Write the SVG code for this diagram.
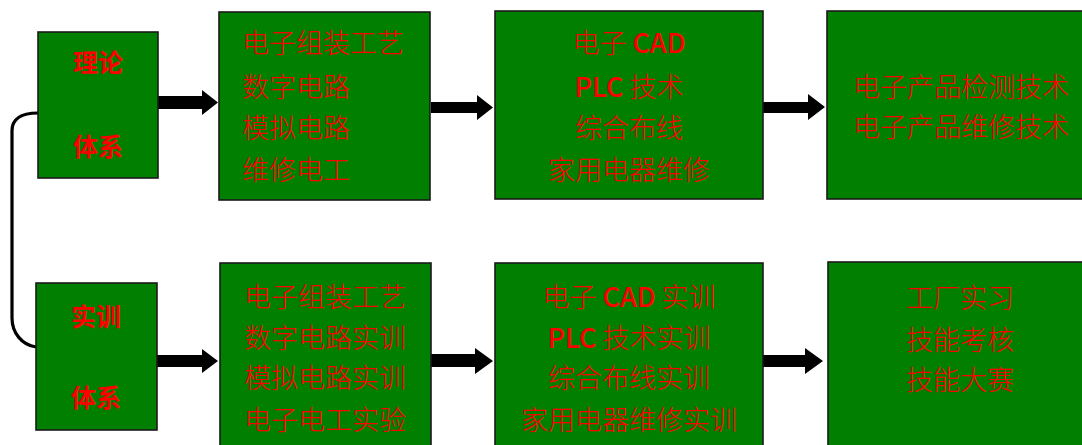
<svg xmlns="http://www.w3.org/2000/svg" width="1082" height="445" viewBox="0 0 1082 445">
<style>
.box{fill:#007f00;stroke:#1a1a1a;stroke-width:1.6}
.t{font-family:"Noto Sans CJK SC","Liberation Sans",sans-serif;font-size:27px;fill:#ff0000;font-weight:300}
.c{text-anchor:middle}
.lat{font-weight:500}
.h{font-family:"Noto Sans CJK SC","Liberation Sans",sans-serif;font-size:25px;fill:#ff0000;font-weight:700;text-anchor:middle}
.arr{fill:#000}
.link{fill:none;stroke:#000;stroke-width:3.2}
</style>
<rect width="1082" height="445" fill="#fff"/>
<g id="connectors">
<path class="link" d="M38,113 C22,113 12,118 12,131 L12,318 C12,333 22,345 36,347"/>
<polygon class="arr" points="158,96 202,96 202,90 218,102.5 202,115 202,109 158,109"/>
<polygon class="arr" points="431,102 477,102 477,95 493,107.5 477,120 477,113 431,113"/>
<polygon class="arr" points="763,102 808,102 808,94 825,107 808,120 808,113 763,113"/>
<polygon class="arr" points="157,355 202,355 202,349 218,361 202,373 202,367 157,367"/>
<polygon class="arr" points="431,354 475,354 475,348 493,361 475,374 475,367 431,367"/>
<polygon class="arr" points="763,355 805,355 805,348 823,361 805,374 805,367 763,367"/>
</g>
<g id="theory">
<rect class="box" x="38" y="32" width="120" height="146"/>
<text class="h" x="98" y="72">理论</text>
<text class="h" x="98" y="156">体系</text>
</g>
<g id="practice">
<rect class="box" x="36" y="283" width="121" height="147"/>
<text class="h" x="96" y="326">实训</text>
<text class="h" x="96" y="407">体系</text>
</g>
<g id="theory-1">
<rect class="box" x="219" y="12" width="211" height="188"/>
<text class="t" x="242" y="53">电子组装工艺</text>
<text class="t" x="242" y="97">数字电路</text>
<text class="t" x="242" y="138">模拟电路</text>
<text class="t" x="242" y="180">维修电工</text>
</g>
<g id="theory-2">
<rect class="box" x="495" y="11" width="268" height="188"/>
<text class="t c" x="629" y="53">电子 <tspan class="lat">CAD</tspan></text>
<text class="t c" x="629" y="97"><tspan class="lat">PLC</tspan> 技术</text>
<text class="t c" x="629" y="138">综合布线</text>
<text class="t c" x="629" y="180">家用电器维修</text>
</g>
<g id="theory-3">
<rect class="box" x="827" y="11" width="270" height="188"/>
<text class="t c" x="961" y="97">电子产品检测技术</text>
<text class="t c" x="961" y="137">电子产品维修技术</text>
</g>
<g id="practice-1">
<rect class="box" x="220" y="263" width="211" height="200"/>
<text class="t c" x="325" y="307">电子组装工艺</text>
<text class="t c" x="325" y="348">数字电路实训</text>
<text class="t c" x="325" y="388">模拟电路实训</text>
<text class="t c" x="325" y="430">电子电工实验</text>
</g>
<g id="practice-2">
<rect class="box" x="495" y="263" width="268" height="200"/>
<text class="t c" x="629" y="307">电子 <tspan class="lat">CAD</tspan> 实训</text>
<text class="t c" x="629" y="348"><tspan class="lat">PLC</tspan> 技术实训</text>
<text class="t c" x="629" y="388">综合布线实训</text>
<text class="t c" x="629" y="430">家用电器维修实训</text>
</g>
<g id="practice-3">
<rect class="box" x="828" y="262" width="270" height="200"/>
<text class="t c" x="960" y="308">工厂实习</text>
<text class="t c" x="960" y="350">技能考核</text>
<text class="t c" x="960" y="390">技能大赛</text>
</g>
</svg>
